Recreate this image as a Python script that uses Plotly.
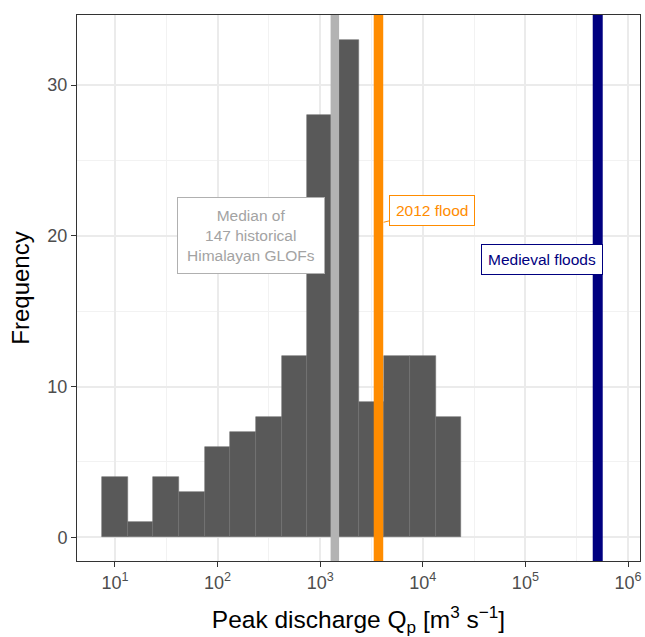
import numpy as np
import plotly.graph_objects as go

# Histogram of peak discharge (log10 bins of width 0.25)
bin_start_log = 0.875
bin_width_log = 0.25
counts = [4, 1, 4, 3, 6, 7, 8, 12, 28, 33, 9, 12, 12, 8]

# Reference discharges [m3/s]
median_q = 1390
flood2012_q = 3700
medieval_q = 507000

x_tick_vals = [1, 2, 3, 4, 5, 6]
x_tick_text = ["10<sup>1</sup>", "10<sup>2</sup>", "10<sup>3</sup>", "10<sup>4</sup>", "10<sup>5</sup>", "10<sup>6</sup>"]
y_tick_vals = [0, 10, 20, 30]

centers = [bin_start_log + bin_width_log * (i + 0.5) for i in range(len(counts))]

fig = go.Figure()
fig.add_trace(go.Bar(
    x=centers, y=counts, width=[bin_width_log] * len(counts),
    marker=dict(color="#595959", line=dict(color="#707070", width=0.6)),
    showlegend=False, hoverinfo="x+y",
))

line_specs = [
    (median_q, "#b3b3b3", 8.5),
    (flood2012_q, "#FF8C00", 9.5),
    (medieval_q, "#000080", 10),
]
for q, col, w in line_specs:
    lx = float(np.log10(q))
    fig.add_shape(type="line", x0=lx, x1=lx, y0=0, y1=1, yref="paper",
                  xref="x", line=dict(color=col, width=w), layer="above")

font_lbl = "Liberation Sans, Arial, sans-serif"
fig.add_annotation(
    x=float(np.log10(median_q)) - 0.095, y=20, xanchor="right", yanchor="middle",
    text="Median of<br>147 historical<br>Himalayan GLOFs", showarrow=False,
    font=dict(family=font_lbl, size=15.5, color="#a3a3a3"),
    bgcolor="white", bordercolor="#b0b0b0", borderwidth=1, borderpad=9,
)
fig.add_annotation(
    x=float(np.log10(flood2012_q)) + 0.05, y=20.9,
    ax=48, ay=-12, axref="pixel", ayref="pixel",
    text="2012 flood", showarrow=True, arrowhead=0, arrowwidth=1,
    arrowcolor="#FF8C00", standoff=0,
    font=dict(family=font_lbl, size=15.5, color="#FF8C00"),
    bgcolor="white", bordercolor="#FF8C00", borderwidth=1, borderpad=6,
)
fig.add_annotation(
    x=float(np.log10(medieval_q)) + 0.05, y=18.4, xanchor="right", yanchor="middle",
    text="Medieval floods", showarrow=False,
    font=dict(family=font_lbl, size=15.5, color="#000080"),
    bgcolor="white", bordercolor="#000080", borderwidth=1, borderpad=6,
)

axis_common = dict(
    showline=True, mirror=True, linecolor="#333333", linewidth=1,
    ticks="outside", ticklen=5, tickcolor="#333333", tickwidth=1,
    showgrid=True, gridcolor="#ebebeb", gridwidth=1.6, zeroline=False,
    tickfont=dict(family=font_lbl, size=18, color="#4d4d4d"),
    automargin=False,
)

fig.update_layout(
    width=645, height=637,
    margin=dict(l=77, r=5, t=15, b=76),
    plot_bgcolor="white", paper_bgcolor="white",
    bargap=0,
    xaxis=dict(
        range=[0.63, 6.117], tickmode="array", tickvals=x_tick_vals, ticktext=x_tick_text,
        minor=dict(dtick=0.5, tick0=0, showgrid=True, gridcolor="#f2f2f2", gridwidth=1, ticks=""),
        title=dict(text="Peak discharge Q<sub>p</sub> [m<sup>3</sup> s<sup>−1</sup>]",
                   font=dict(family=font_lbl, size=24.5, color="black"), standoff=20),
        **axis_common,
    ),
    yaxis=dict(
        range=[-1.57, 34.65], tickmode="array", tickvals=y_tick_vals,
        minor=dict(dtick=5, tick0=0, showgrid=True, gridcolor="#f2f2f2", gridwidth=1, ticks=""),
        title=dict(text="Frequency", font=dict(family=font_lbl, size=24, color="black"), standoff=10),
        **axis_common,
    ),
)

fig.write_html("out.html", config={"displayModeBar": False},
               post_script="document.body.style.margin='0';document.body.style.overflow='hidden';")
